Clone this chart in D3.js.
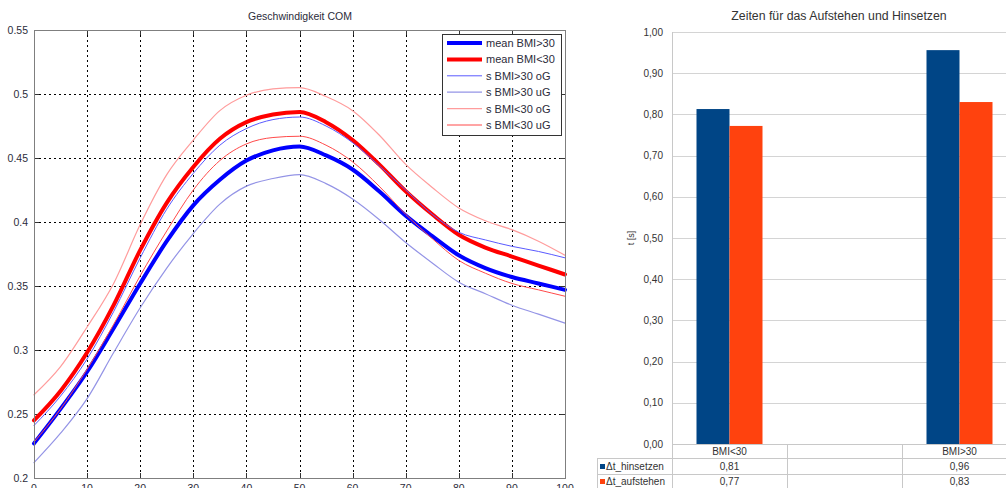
<!DOCTYPE html>
<meta charset="utf-8">
<style>
body {
  margin: 0;
  background-color: #fff;
}
svg {
  display: block;
  font-family: "Liberation Sans", Arial, sans-serif;
}
.grid line {
  stroke: #000;
  stroke-width: 1;
  stroke-dasharray: 2,3;
  shape-rendering: crispEdges;
}
.frame {
  fill: none;
  stroke: #7f7f7f;
  stroke-width: 1;
  shape-rendering: crispEdges;
}
.curve {
  fill: none;
  stroke-linejoin: round;
  stroke-linecap: round;
}
.tick-lbl {
  font-size: 10.5px;
  fill: #2b2b3a;
}
.bgrid line {
  stroke: #d4d4d4;
  stroke-width: 1;
  shape-rendering: crispEdges;
}
.tbl line {
  stroke: #c8c8c8;
  stroke-width: 1;
  shape-rendering: crispEdges;
}
.btxt {
  font-size: 10px;
  fill: #333;
}
</style>
<svg width="1006" height="488"></svg>
<script src="https://d3js.org/d3.v7.min.js"></script>
<script>
// ---- left chart: Geschwindigkeit COM ----
var pct = [0, 5, 10, 15, 20, 25, 30, 35, 40, 45, 50, 55, 60, 65, 70, 75, 80, 85, 90, 95, 100];
var meanOver30  = [0.227, 0.254, 0.283, 0.317, 0.352, 0.385, 0.413, 0.433, 0.448, 0.456, 0.459, 0.452, 0.441, 0.424, 0.405, 0.389, 0.374, 0.364, 0.357, 0.352, 0.347];
var meanUnder30 = [0.245, 0.268, 0.298, 0.335, 0.378, 0.415, 0.443, 0.465, 0.478, 0.484, 0.486, 0.478, 0.464, 0.445, 0.424, 0.406, 0.390, 0.380, 0.373, 0.366, 0.359];
var sOver30oG   = [0.241, 0.264, 0.293, 0.330, 0.372, 0.410, 0.438, 0.460, 0.473, 0.480, 0.482, 0.475, 0.462, 0.444, 0.425, 0.406, 0.392, 0.386, 0.381, 0.377, 0.372];
var sOver30uG   = [0.212, 0.235, 0.262, 0.298, 0.333, 0.364, 0.391, 0.414, 0.428, 0.434, 0.437, 0.430, 0.418, 0.402, 0.384, 0.368, 0.353, 0.344, 0.335, 0.328, 0.321];
var sUnder30oG  = [0.265, 0.287, 0.318, 0.352, 0.398, 0.437, 0.464, 0.487, 0.499, 0.504, 0.505, 0.498, 0.487, 0.468, 0.445, 0.427, 0.411, 0.401, 0.394, 0.385, 0.374];
var sUnder30uG  = [0.228, 0.254, 0.285, 0.320, 0.358, 0.393, 0.425, 0.448, 0.461, 0.466, 0.467, 0.460, 0.447, 0.428, 0.406, 0.387, 0.370, 0.360, 0.352, 0.347, 0.342];
var xTicks = [0, 10, 20, 30, 40, 50, 60, 70, 80, 90, 100];
var yTicks = [0.2, 0.25, 0.3, 0.35, 0.4, 0.45, 0.5, 0.55];
var yTickLabels = ["0.2", "0.25", "0.3", "0.35", "0.4", "0.45", "0.5", "0.55"];

// ---- right chart: Zeiten fuer das Aufstehen und Hinsetzen ----
var groups = ["BMI<30", "", "BMI>30"];
var hinsetzen = [0.813, null, 0.956];
var aufstehen = [0.772, null, 0.830];
var seriesNames = ["\u0394t_hinsetzen", "\u0394t_aufstehen"];
var barTicks = [0, 0.1, 0.2, 0.3, 0.4, 0.5, 0.6, 0.7, 0.8, 0.9, 1.0];
var barTickLabels = ["0,00", "0,10", "0,20", "0,30", "0,40", "0,50", "0,60", "0,70", "0,80", "0,90", "1,00"];

var svg = d3.select("svg");

// left chart
var x = d3.scaleLinear().domain([0, 100]).range([34, 565]);
var y = d3.scaleLinear().domain([0.2, 0.55]).range([478, 30]);

svg.append("text")
  .attr("x", 300).attr("y", 20)
  .attr("text-anchor", "middle")
  .style("font-size", "10.5px").style("fill", "#2b2b3a")
  .text("Geschwindigkeit COM");

var grid = svg.append("g").attr("class", "grid");
grid.selectAll(".gx").data(xTicks.slice(1, -1)).enter().append("line")
  .attr("x1", function(d) { return Math.round(x(d)) + 0.5; })
  .attr("x2", function(d) { return Math.round(x(d)) + 0.5; })
  .attr("y1", y(0.55)).attr("y2", y(0.2));
grid.selectAll(".gy").data(yTicks.slice(1, -1)).enter().append("line")
  .attr("y1", function(d) { return Math.round(y(d)) + 0.5; })
  .attr("y2", function(d) { return Math.round(y(d)) + 0.5; })
  .attr("x1", x(0)).attr("x2", x(100));

// tick marks inside frame
var tk = svg.append("g").attr("stroke", "#333").attr("stroke-width", 1).attr("shape-rendering", "crispEdges");
xTicks.forEach(function(d) {
  var px = Math.round(x(d)) + 0.5;
  tk.append("line").attr("x1", px).attr("x2", px).attr("y1", y(0.2)).attr("y2", y(0.2) - 5);
  tk.append("line").attr("x1", px).attr("x2", px).attr("y1", y(0.55)).attr("y2", y(0.55) + 5);
});
yTicks.forEach(function(d) {
  var py = Math.round(y(d)) + 0.5;
  tk.append("line").attr("y1", py).attr("y2", py).attr("x1", x(0)).attr("x2", x(0) + 5);
  tk.append("line").attr("y1", py).attr("y2", py).attr("x1", x(100)).attr("x2", x(100) - 5);
});

svg.selectAll(".ylbl").data(yTicks).enter().append("text")
  .attr("class", "tick-lbl")
  .attr("x", 28)
  .attr("y", function(d) { return y(d) + 4; })
  .attr("text-anchor", "end")
  .text(function(d, i) { return yTickLabels[i]; });

svg.selectAll(".xlbl").data(xTicks).enter().append("text")
  .attr("class", "tick-lbl")
  .attr("x", function(d) { return x(d); })
  .attr("y", 492)
  .attr("text-anchor", "middle")
  .text(function(d) { return d; });

var series = [
  {name: "mean BMI>30", values: meanOver30, color: "#0000ff", w: 4},
  {name: "mean BMI<30", values: meanUnder30, color: "#ff0000", w: 4},
  {name: "s BMI>30 oG", values: sOver30oG, color: "#5a5aff", w: 1},
  {name: "s BMI>30 uG", values: sOver30uG, color: "#9494e6", w: 1.2},
  {name: "s BMI<30 oG", values: sUnder30oG, color: "#ff9c9c", w: 1.2},
  {name: "s BMI<30 uG", values: sUnder30uG, color: "#ff4a4a", w: 1}
];

var line = d3.line()
  .x(function(d, i) { return x(pct[i]); })
  .y(function(d) { return y(d); })
  .curve(d3.curveMonotoneX);

svg.append("g").selectAll("path").data(series).enter().append("path")
  .attr("class", "curve")
  .attr("d", function(s) { return line(s.values); })
  .attr("stroke", function(s) { return s.color; })
  .attr("stroke-width", function(s) { return s.w; });

svg.append("rect").attr("class", "frame")
  .attr("x", x(0) + 0.5).attr("y", y(0.55) + 0.5)
  .attr("width", x(100) - x(0)).attr("height", y(0.2) - y(0.55));

// legend
var lg = svg.append("g").attr("transform", "translate(442,34)");
lg.append("rect").attr("width", 119).attr("height", 101)
  .attr("fill", "#fff").attr("stroke", "#333").attr("stroke-width", 1)
  .attr("shape-rendering", "crispEdges");
var item = lg.selectAll(".it").data(series).enter().append("g")
  .attr("transform", function(d, i) { return "translate(0," + (9 + i * 16.4) + ")"; });
item.append("line").attr("x1", 5).attr("x2", 40)
  .attr("stroke", function(s) { return s.color; })
  .attr("stroke-width", function(s) { return s.w; });
item.append("text").attr("x", 44).attr("y", 4)
  .style("font-size", "11px").style("fill", "#2b2b3a")
  .text(function(s) { return s.name; });

// right chart
var by = d3.scaleLinear().domain([0, 1]).range([444, 32]);
var bx = d3.scaleBand().domain(groups).range([672, 1017]);
var sub = d3.scaleBand().domain([0, 1]).range([bx.bandwidth() / 2 - 33, bx.bandwidth() / 2 + 33]);
var barColors = ["#004586", "#ff420e"];

svg.append("text")
  .attr("x", 839).attr("y", 20)
  .attr("text-anchor", "middle")
  .style("font-size", "12.3px").style("fill", "#333")
  .text("Zeiten f\u00fcr das Aufstehen und Hinsetzen");

var bg = svg.append("g").attr("class", "bgrid");
bg.selectAll("line").data(barTicks.slice(1)).enter().append("line")
  .attr("x1", 672).attr("x2", 1017)
  .attr("y1", function(d) { return Math.round(by(d)) + 0.5; })
  .attr("y2", function(d) { return Math.round(by(d)) + 0.5; });

svg.selectAll(".bylbl").data(barTicks).enter().append("text")
  .attr("class", "btxt")
  .attr("x", 663)
  .attr("y", function(d) { return by(d) + 3.5; })
  .attr("text-anchor", "end")
  .text(function(d, i) { return barTickLabels[i]; });

svg.append("text")
  .attr("transform", "translate(634,238) rotate(-90)")
  .attr("text-anchor", "middle")
  .style("font-size", "9px").style("fill", "#333")
  .text("t [s]");

var barData = [hinsetzen, aufstehen];
barData.forEach(function(vals, si) {
  svg.append("g").selectAll("rect")
    .data(vals.map(function(v, i) { return {g: groups[i], v: v}; }).filter(function(d) { return d.v != null; }))
    .enter().append("rect")
    .attr("x", function(d) { return bx(d.g) + sub(si); })
    .attr("width", sub.bandwidth())
    .attr("y", function(d) { return by(d.v); })
    .attr("height", function(d) { return by(0) - by(d.v); })
    .attr("fill", barColors[si]);
});

// axis line and data table
var tbl = svg.append("g").attr("class", "tbl");
tbl.append("line").attr("x1", 672.5).attr("x2", 672.5).attr("y1", 32).attr("y2", 488);
tbl.append("line").attr("x1", 672).attr("x2", 1017).attr("y1", 444.5).attr("y2", 444.5);
tbl.append("line").attr("x1", 597).attr("x2", 1017).attr("y1", 458.5).attr("y2", 458.5);
tbl.append("line").attr("x1", 597).attr("x2", 1017).attr("y1", 474.5).attr("y2", 474.5);
tbl.append("line").attr("x1", 597.5).attr("x2", 597.5).attr("y1", 458).attr("y2", 488);
groups.slice(1).forEach(function(g) {
  var px = Math.round(bx(g)) + 0.5;
  tbl.append("line").attr("x1", px).attr("x2", px).attr("y1", 444).attr("y2", 488);
});

svg.selectAll(".cat").data(groups).enter().append("text")
  .attr("class", "btxt")
  .attr("x", function(d) { return bx(d) + bx.bandwidth() / 2; })
  .attr("y", 455)
  .attr("text-anchor", "middle")
  .text(function(d) { return d; });

var fmt = function(v) { return v == null ? "" : d3.format(".2f")(v).replace(".", ","); };
var rowY = [470, 485];
barData.forEach(function(vals, si) {
  svg.append("rect").attr("x", 600).attr("y", rowY[si] - 6).attr("width", 5).attr("height", 5)
    .attr("fill", barColors[si]);
  svg.append("text").attr("class", "btxt").attr("x", 606).attr("y", rowY[si])
    .text(seriesNames[si]);
  svg.append("g").selectAll("text").data(vals).enter().append("text")
    .attr("class", "btxt")
    .attr("x", function(d, i) { return bx(groups[i]) + bx.bandwidth() / 2; })
    .attr("y", rowY[si])
    .attr("text-anchor", "middle")
    .text(function(d) { return fmt(d); });
});
</script>
